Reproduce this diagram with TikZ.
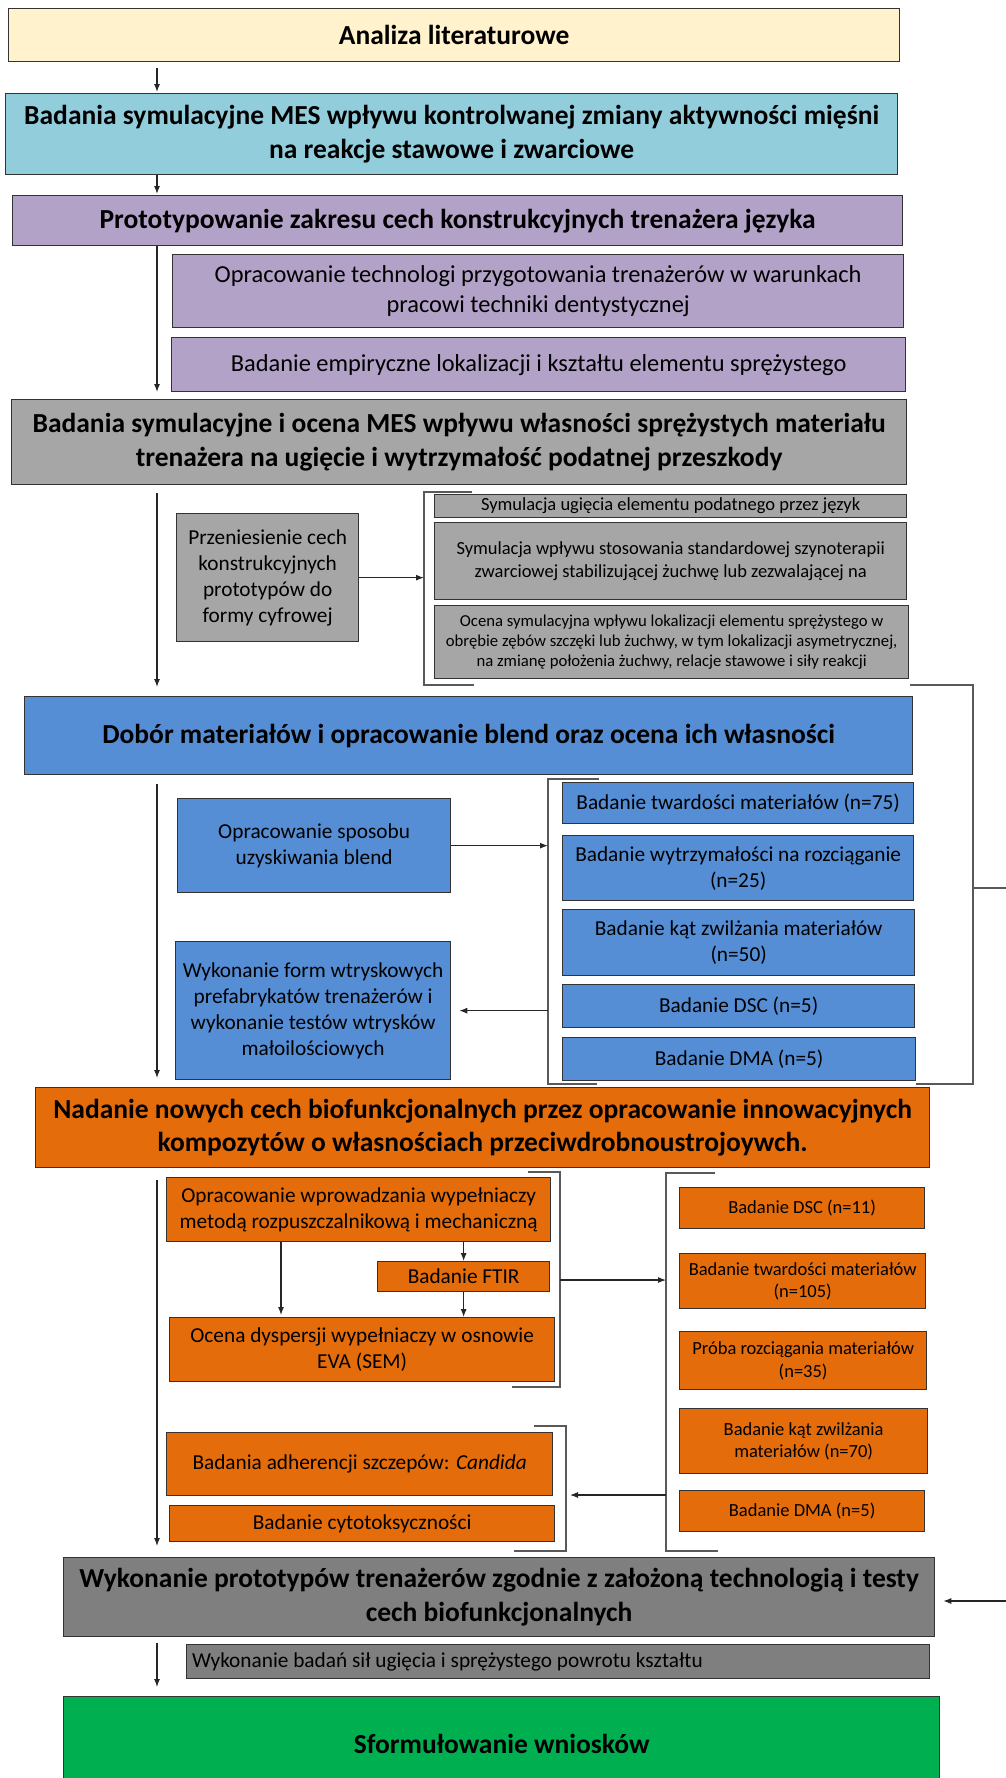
\documentclass[tikz,border=0pt]{standalone}
\usepackage{fontspec}
\setmainfont{Carlito}
\usetikzlibrary{arrows.meta,calc}
\definecolor{cYel}{HTML}{FFF2CC}
\definecolor{cCyan}{HTML}{92CDDC}
\definecolor{cPur}{HTML}{B3A2C7}
\definecolor{cGray}{HTML}{A6A6A6}
\definecolor{cBlue}{HTML}{558ED5}
\definecolor{cOra}{HTML}{E46C0A}
\definecolor{cDg}{HTML}{7F7F7F}
\definecolor{cGrn}{HTML}{00B050}
\tikzset{
  bx/.style={draw=black!80, line width=1.3pt, inner xsep=2pt, inner ysep=1pt, align=center, text=black},
  hd/.style={font=\fontsize{27.5}{33.5}\selectfont\bfseries},
  tl/.style={font=\fontsize{24.4}{30.5}\selectfont},
  tm/.style={font=\fontsize{21.3}{26}\selectfont},
  ts/.style={font=\fontsize{18.5}{22.5}\selectfont},
  txs/.style={font=\fontsize{16.7}{20.3}\selectfont},
  arr/.style={-{Latex[length=8pt,width=6pt]}, line width=1.1pt, black!85},
  brk/.style={line width=1.6pt, black!65},
}
\newcommand\mkbox[7]{\node[bx,#6,minimum width={(#4-#2)*1pt},minimum height={(#5-#3)*1pt},anchor=north west] (#1) at (#2,#3) {#7};}
\begin{document}
\begin{tikzpicture}[x=1pt,y=-1pt]
\useasboundingbox (0,0) rectangle (1006,1778);
\fill[white] (0,0) rectangle (1006,1778);
% main column
\mkbox{A1}{8}{8}{899}{61}{fill=cYel,hd}{Analiza literaturowe}
\mkbox{A2}{5}{93}{897}{174}{fill=cCyan,hd}{Badania symulacyjne MES wpływu kontrolwanej zmiany aktywności mięśni\\na reakcje stawowe i zwarciowe}
\mkbox{A3}{12}{195}{902}{245}{fill=cPur,hd}{Prototypowanie zakresu cech konstrukcyjnych trenażera języka}
\mkbox{P1}{172}{254}{903}{327}{fill=cPur,tl}{Opracowanie technologi przygotowania trenażerów w warunkach\\pracowi techniki dentystycznej}
\mkbox{P2}{171}{337}{905}{391}{fill=cPur,tl}{Badanie empiryczne lokalizacji i kształtu elementu sprężystego}
\mkbox{G1}{11}{399}{906}{484}{fill=cGray,hd}{Badania symulacyjne i ocena MES wpływu własności sprężystych materiału\\trenażera na ugięcie i wytrzymałość podatnej przeszkody}
\mkbox{G2}{176}{513}{358}{641}{fill=cGray,tm}{Przeniesienie cech\\konstrukcyjnych\\prototypów do\\formy cyfrowej}
\mkbox{S1}{434}{494}{906}{517}{fill=cGray,ts}{Symulacja ugięcia elementu podatnego przez język}
\mkbox{S2}{434}{522}{906}{599}{fill=cGray,ts}{Symulacja wpływu stosowania standardowej szynoterapii\\zwarciowej stabilizującej żuchwę lub zezwalającej na}
\mkbox{S3}{434}{605}{908}{678}{fill=cGray,txs}{Ocena symulacyjna wpływu lokalizacji elementu sprężystego w\\obrębie zębów szczęki lub żuchwy, w tym lokalizacji asymetrycznej,\\na zmianę położenia żuchwy, relacje stawowe i siły reakcji}
\mkbox{B1}{24}{696}{912}{774}{fill=cBlue,hd}{Dobór materiałów i opracowanie blend oraz ocena ich własności}
\mkbox{B2}{177}{798}{450}{892}{fill=cBlue,tm}{Opracowanie sposobu\\uzyskiwania blend}
\mkbox{B3}{175}{941}{450}{1079}{fill=cBlue,tm}{Wykonanie form wtryskowych\\prefabrykatów trenażerów i\\wykonanie testów wtrysków\\małoilościowych}
\mkbox{b1}{562}{782}{913}{823}{fill=cBlue,tm}{Badanie twardości materiałów (n=75)}
\mkbox{b2}{562}{835}{913}{900}{fill=cBlue,tm}{Badanie wytrzymałości na rozciąganie\\(n=25)}
\mkbox{b3}{562}{909}{914}{975}{fill=cBlue,tm}{Badanie kąt zwilżania materiałów\\(n=50)}
\mkbox{b4}{562}{984}{914}{1027}{fill=cBlue,tm}{Badanie DSC (n=5)}
\mkbox{b5}{562}{1037}{915}{1080}{fill=cBlue,tm}{Badanie DMA (n=5)}
\mkbox{O1}{35}{1087}{929}{1167}{fill=cOra,hd}{Nadanie nowych cech biofunkcjonalnych przez opracowanie innowacyjnych\\kompozytów o własnościach przeciwdrobnoustrojoywch.}
\mkbox{O2}{166}{1177}{550}{1241}{fill=cOra,tm}{Opracowanie wprowadzania wypełniaczy\\metodą rozpuszczalnikową i mechaniczną}
\mkbox{F1}{377}{1261}{549}{1291}{fill=cOra,tm}{Badanie FTIR}
\mkbox{O3}{169}{1317}{554}{1381}{fill=cOra,tm}{Ocena dyspersji wypełniaczy w osnowie\\EVA (SEM)}
\mkbox{O4}{166}{1432}{552}{1495}{fill=cOra,tm}{Badania adherencji szczepów: \textit{Candida}}
\mkbox{O5}{169}{1505}{554}{1541}{fill=cOra,tm}{Badanie cytotoksyczności}
\mkbox{r1}{679}{1187}{924}{1228}{fill=cOra,ts}{Badanie DSC (n=11)}
\mkbox{r2}{679}{1253}{925}{1308}{fill=cOra,ts}{Badanie twardości materiałów\\(n=105)}
\mkbox{r3}{679}{1331}{926}{1389}{fill=cOra,ts}{Próba rozciągania materiałów\\(n=35)}
\mkbox{r4}{679}{1408}{927}{1473}{fill=cOra,ts}{Badanie kąt zwilżania\\materiałów (n=70)}
\mkbox{r5}{679}{1490}{924}{1531}{fill=cOra,ts}{Badanie DMA (n=5)}
\mkbox{W1}{63}{1557}{934}{1636}{fill=cDg,hd}{Wykonanie prototypów trenażerów zgodnie z założoną technologią i testy\\cech biofunkcjonalnych}
\mkbox{W2}{186}{1644}{929}{1678}{fill=cDg}{}
\node[tm, anchor=west, inner sep=0pt] (W2t) at ($(W2.west)+(6,0)$) {Wykonanie badań sił ugięcia i sprężystego powrotu kształtu};
\mkbox{GR}{63}{1696}{939}{1790}{fill=cGrn,hd}{Sformułowanie wniosków}
% spine
\coordinate (sp) at (157,0);
\draw[arr] ($(A1.south -| sp)+(0,6)$) -- ($(A2.north -| sp)+(0,-1)$);
\draw[arr] (A2.south -| sp) -- ($(A3.north -| sp)+(0,-1)$);
\draw[arr] (A3.south -| sp) -- ($(G1.north -| sp)+(0,-7)$);
\draw[arr] ($(G1.south -| sp)+(0,8)$) -- ($(B1.north -| sp)+(0,-9)$);
\draw[arr] ($(B1.south -| sp)+(0,9)$) -- ($(O1.north -| sp)+(0,-9)$);
\draw[arr] ($(O1.south -| sp)+(0,12)$) -- ($(W1.north -| sp)+(0,-11)$);
\draw[arr] ($(W1.south -| sp)+(0,6)$) -- ($(GR.north -| sp)+(0,-9)$);
% bracket: Przeniesienie
\coordinate (k1) at (424,492);
\draw[brk] (472,492) -- (k1) -- (424,685) -- (474,685);
\draw[arr] (G2.east) -- (G2.east -| k1);
% big right bracket
\coordinate (k2) at (973,888);
\coordinate (rt) at (1006,1601);
\draw[brk] (910,685) -- (973,685) -- (973,1084) -- (916,1084);
\draw[brk] (k2) -- (1006,888);
\draw[arr, shorten >=8pt] (rt) -- (W1.east |- rt);
% blue bracket
\coordinate (k3) at (548,779);
\draw[brk] (599,779) -- (k3) -- (548,1084) -- (597,1084);
\draw[arr] (B2.east) -- (B2.east -| k3);
\draw[arr, shorten >=8pt] (B3.east -| k3) -- (B3.east);
% orange inner arrows
\coordinate (xo) at (281,0);
\draw[arr] (F1.north |- O2.south) -- (F1.north);
\draw[arr] (F1.south) -- (F1.south |- O3.north);
\draw[arr] (O2.south -| xo) -- ($(O3.north -| xo)+(0,-2)$);
% orange brackets
\coordinate (k4) at (560,1280);
\coordinate (k5) at (666,1280);
\draw[brk] (528,1172) -- (560,1172) -- (560,1387) -- (512,1387);
\draw[brk] (715,1173) -- (666,1173) -- (666,1551) -- (718,1551);
\draw[brk] (534,1426) -- (566,1426) -- (566,1551) -- (514,1551);
\coordinate (k6) at (666,1495);
\coordinate (k7) at (570,1495);
\draw[arr] (k4) -- (k5);
\draw[arr] (k6) -- (k7);
\end{tikzpicture}
\end{document}
